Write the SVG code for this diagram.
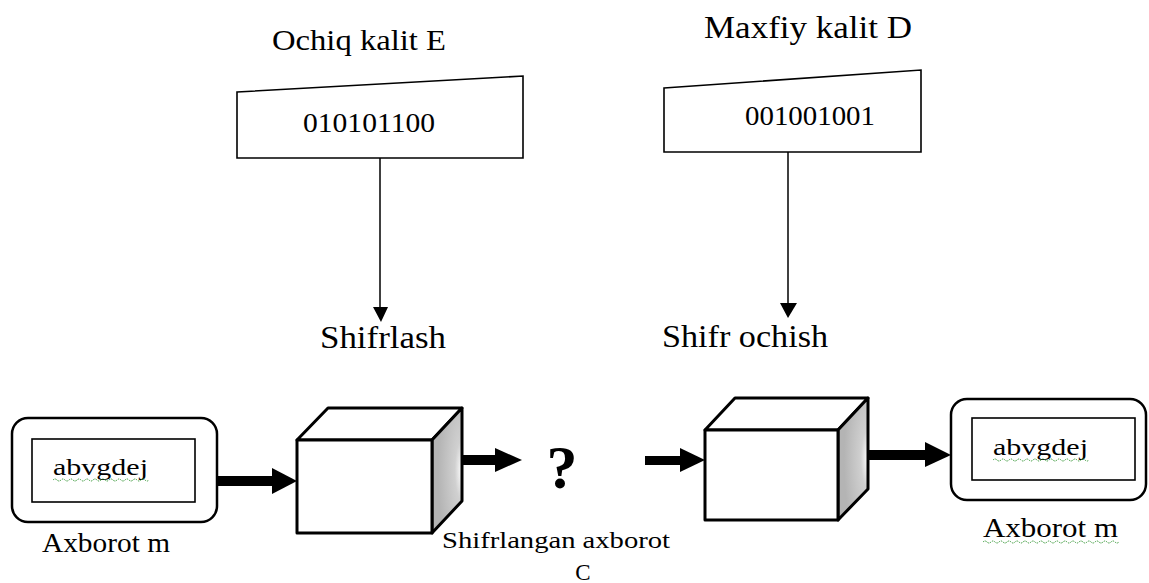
<svg xmlns="http://www.w3.org/2000/svg" width="1149" height="583" viewBox="0 0 1149 583" font-family="Liberation Serif, DejaVu Serif, serif">
  <style>
    .key { fill: #fff; stroke: #000; stroke-width: 1.6; }
    .thin { stroke: #000; stroke-width: 1.5; fill: none; }
    .head { fill: #000; }
    .face { fill: #fff; stroke: #000; stroke-width: 3; stroke-linejoin: round; }
    .outer { fill: #fff; stroke: #000; stroke-width: 2.5; }
    .inner { fill: #fff; stroke: #000; stroke-width: 1.6; }
    .wavy { fill: none; stroke: #3a9a3a; stroke-width: 1; stroke-dasharray: 1.5 1; }
  </style>
  <defs>
    <radialGradient id="sideGrad" cx="1" cy="0.5" r="0.8" fx="1" fy="0.5">
      <stop offset="0" stop-color="#ffffff"/>
      <stop offset="0.3" stop-color="#d0d0d0"/>
      <stop offset="1" stop-color="#b4b4b4"/>
    </radialGradient>
  </defs>
  <rect width="1149" height="583" fill="#fff"/>

  <g id="title-e">
    <text x="272" y="50" font-family="Liberation Serif, serif" font-size="30" textLength="174" lengthAdjust="spacingAndGlyphs">Ochiq kalit E</text>
  </g>
  <g id="title-d">
    <text x="704" y="38" font-family="Liberation Serif, serif" font-size="32" textLength="208" lengthAdjust="spacingAndGlyphs">Maxfiy kalit D</text>
  </g>

  <g id="key-e">
    <polygon class="key" points="237,92 523,76 523,158 237,158"/>
    <text x="303" y="132" font-family="Liberation Serif, serif" font-size="27" textLength="132" lengthAdjust="spacingAndGlyphs">010101100</text>
  </g>
  <g id="key-d">
    <polygon class="key" points="664,88 921,70 921,152 664,152"/>
    <text x="745" y="125" font-family="Liberation Serif, serif" font-size="27" textLength="130" lengthAdjust="spacingAndGlyphs">001001001</text>
  </g>

  <g id="label-shifrlash">
    <text x="320" y="348" font-family="Liberation Serif, serif" font-size="32" textLength="126" lengthAdjust="spacingAndGlyphs">Shifrlash</text>
  </g>
  <g id="label-shifr-ochish">
    <text x="662" y="347" font-family="Liberation Serif, serif" font-size="32" textLength="166" lengthAdjust="spacingAndGlyphs">Shifr ochish</text>
  </g>

  <g id="message-m">
    <rect class="outer" x="12" y="418" width="205" height="104" rx="16"/>
    <rect class="inner" x="32" y="439" width="163" height="63"/>
    <text x="53" y="475" font-family="Liberation Serif, serif" font-size="24" textLength="95" lengthAdjust="spacingAndGlyphs">abvgdej</text>
    <path class="wavy" d="M53,480 q2,-2 4,0 t4,0 t4,0 t4,0 t4,0 t4,0 t4,0 t4,0 t4,0 t4,0 t4,0 t4,0 t4,0 t4,0 t4,0 t4,0 t4,0 t4,0 t4,0 t4,0 t4,0 t4,0 t4,0 t4,0"/>
    <text x="42" y="552" font-family="Liberation Serif, serif" font-size="27" textLength="128" lengthAdjust="spacingAndGlyphs">Axborot m</text>
  </g>

  <g id="encrypt-cube">
    <polygon class="face" points="297,440 328,408 462,408 432,440"/>
    <polygon points="432,440 462,408 462,501 432,533" fill="url(#sideGrad)" stroke="#000" stroke-width="3" stroke-linejoin="round"/>
    <rect class="face" x="297" y="440" width="135" height="93"/>
  </g>

  <g id="ciphertext-c">
    <text x="562" y="488" font-family="Liberation Serif, serif" font-size="62" font-weight="bold" text-anchor="middle">?</text>
    <text x="442" y="548" font-family="Liberation Serif, serif" font-size="23" textLength="228" lengthAdjust="spacingAndGlyphs">Shifrlangan axborot</text>
    <text x="583" y="580" font-family="Liberation Serif, serif" font-size="23" text-anchor="middle">C</text>
  </g>

  <g id="decrypt-cube">
    <polygon class="face" points="705,430 735,398 868,398 838,430"/>
    <polygon points="838,430 868,398 868,489 838,520" fill="url(#sideGrad)" stroke="#000" stroke-width="3" stroke-linejoin="round"/>
    <rect class="face" x="705" y="430" width="133" height="90"/>
  </g>

  <g id="message-m-out">
    <rect class="outer" x="951" y="399" width="195" height="101" rx="16"/>
    <rect class="inner" x="972" y="418" width="163" height="62"/>
    <text x="993" y="455" font-family="Liberation Serif, serif" font-size="24" textLength="95" lengthAdjust="spacingAndGlyphs">abvgdej</text>
    <path class="wavy" d="M993,460 q2,-2 4,0 t4,0 t4,0 t4,0 t4,0 t4,0 t4,0 t4,0 t4,0 t4,0 t4,0 t4,0 t4,0 t4,0 t4,0 t4,0 t4,0 t4,0 t4,0 t4,0 t4,0 t4,0 t4,0 t4,0"/>
    <text x="983" y="537" font-family="Liberation Serif, serif" font-size="27" textLength="135" lengthAdjust="spacingAndGlyphs">Axborot  m</text>
    <path class="wavy" d="M983,542 q2,-2 4,0 t4,0 t4,0 t4,0 t4,0 t4,0 t4,0 t4,0 t4,0 t4,0 t4,0 t4,0 t4,0 t4,0 t4,0 t4,0 t4,0 t4,0 t4,0 t4,0 t4,0 t4,0 t4,0 t4,0 t4,0 t4,0 t4,0 t4,0 t4,0 t4,0 t4,0 t4,0 t4,0 t4,0"/>
  </g>

  <g id="connectors">
    <line class="thin" x1="380" y1="158" x2="380" y2="310"/>
    <polygon class="head" points="373,307 388,307 381,322"/>
    <line class="thin" x1="788" y1="152" x2="788" y2="306"/>
    <polygon class="head" points="780,303 797,303 788,318"/>

    <rect class="head" x="217" y="476" width="57" height="10"/>
    <polygon class="head" points="272,468 297,481 272,494"/>

    <rect class="head" x="462" y="455" width="35" height="10"/>
    <polygon class="head" points="495,448 522,460 495,472"/>

    <rect class="head" x="645" y="456" width="37" height="9"/>
    <polygon class="head" points="680,448 705,460 680,472"/>

    <rect class="head" x="868" y="450" width="59" height="10"/>
    <polygon class="head" points="925,442 951,455 925,467"/>
  </g>
</svg>
